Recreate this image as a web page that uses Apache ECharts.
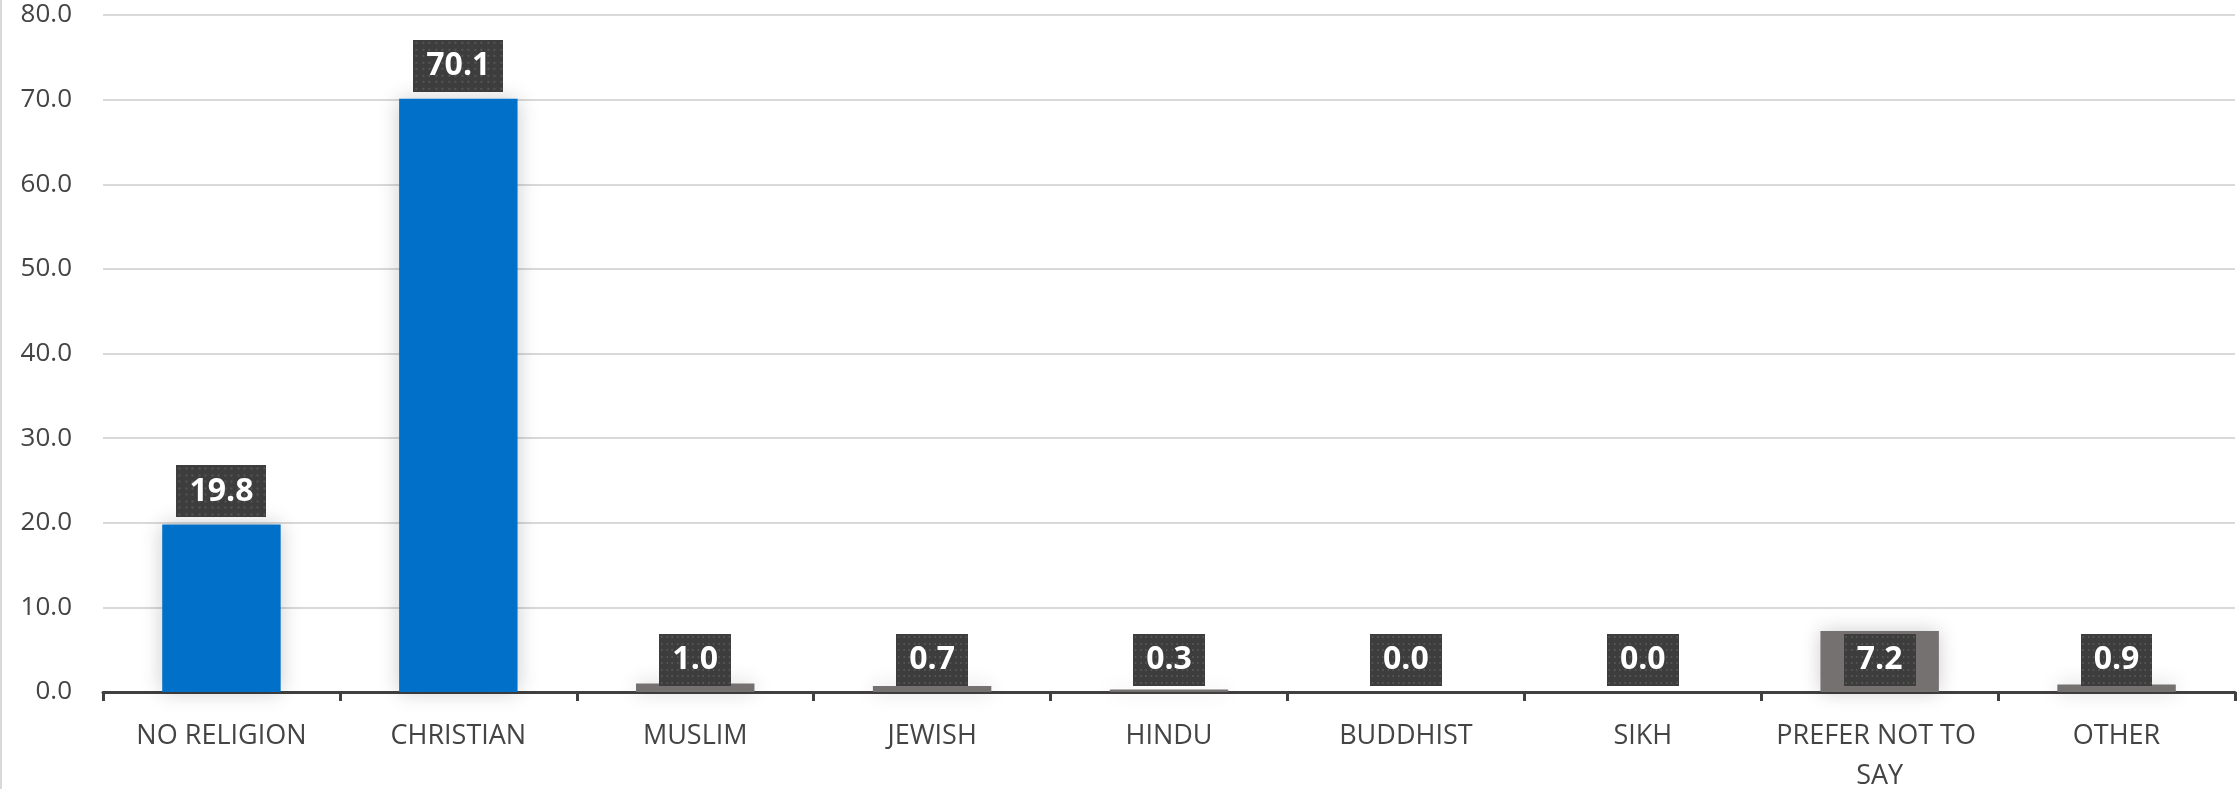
<!DOCTYPE html>
<html>
<head>
<meta charset="utf-8">
<script src="https://cdn.jsdelivr.net/npm/echarts@6/dist/echarts.min.js"></script>
<style>
html,body{margin:0;padding:0;background:#fff;}
#chart{width:2237px;height:789px;}
</style>
</head>
<body>
<div id="chart"></div>
<script>
const categories = ['NO RELIGION','CHRISTIAN','MUSLIM','JEWISH','HINDU','BUDDHIST','SIKH','PREFER NOT TO SAY','OTHER'];
const values = [19.8, 70.1, 1.0, 0.7, 0.3, 0.0, 0.0, 7.2, 0.9];
const yTicks = { min: 0, max: 80, interval: 10 };

const BLUE = '#0070C8';
const GRAY = '#767171';
const TEXT = '#444444';

// dotted label background
const pat = document.createElement('canvas');
pat.width = 90; pat.height = 52;
const pc = pat.getContext('2d');
pc.fillStyle = '#3d3d3d';
pc.fillRect(0,0,90,52);
pc.fillStyle = '#555555';
for (let x = 2; x < 90; x += 6.5) for (let y = 2; y < 52; y += 6.5) pc.fillRect(Math.round(x), Math.round(y), 2, 2);

const chart = echarts.init(document.getElementById('chart'), null, {renderer:'canvas'});
const data = values.map((v, i) => ({
  value: v,
  itemStyle: { color: i < 2 ? BLUE : GRAY },
  label: v > 10 ? { position: 'top', distance: 7 } : { position: 'insideBottom', distance: 6 }
}));

chart.setOption({
  animation: false,
  backgroundColor: '#fff',
  textStyle: { fontFamily: 'Open Sans' },
  grid: { left: 103, right: 2, top: 15, bottom: 97, containLabel: false, outerBoundsMode: 'none' },
  xAxis: {
    type: 'category',
    data: categories,
    axisLine: { show: true, lineStyle: { color: '#404040', width: 3 } },
    axisTick: { show: true, alignWithLabel: false, length: 9, lineStyle: { color: '#404040', width: 3 } },
    axisLabel: {
      color: TEXT, fontSize: 27, margin: 24, lineHeight: 40,
      width: 225, overflow: 'break', interval: 0, fontFamily: 'Open Sans'
    },
    splitLine: { show: false }
  },
  yAxis: {
    type: 'value',
    min: yTicks.min, max: yTicks.max, interval: yTicks.interval,
    axisLine: { show: false },
    axisTick: { show: false },
    axisLabel: { color: TEXT, fontSize: 26, margin: 31, formatter: v => v.toFixed(1), fontFamily: 'Open Sans' },
    splitLine: { lineStyle: { color: '#d9d9d9', width: 2 } }
  },
  series: [{
    type: 'bar',
    data: data,
    barCategoryGap: '50%',
    itemStyle: { shadowBlur: 20, shadowColor: 'rgba(0,0,0,0.2)', shadowOffsetX: 0, shadowOffsetY: 0 },
    label: {
      show: true,
      formatter: p => p.value.toFixed(1),
      color: '#ffffff',
      fontWeight: 'bold',
      fontSize: 32,
      fontFamily: 'Open Sans',
      lineHeight: 34,
      padding: [9, 13, 9, 13],
      backgroundColor: { image: pat },
      shadowColor: 'rgba(0,0,0,0.45)',
      shadowBlur: 6,
      shadowOffsetX: 3,
      shadowOffsetY: 3
    }
  }],
  graphic: [{
    type: 'line', shape: { x1: 1, y1: 0, x2: 1, y2: 789 },
    style: { stroke: '#d9d9d9', lineWidth: 2 }
  }]
});
</script>
</body>
</html>
